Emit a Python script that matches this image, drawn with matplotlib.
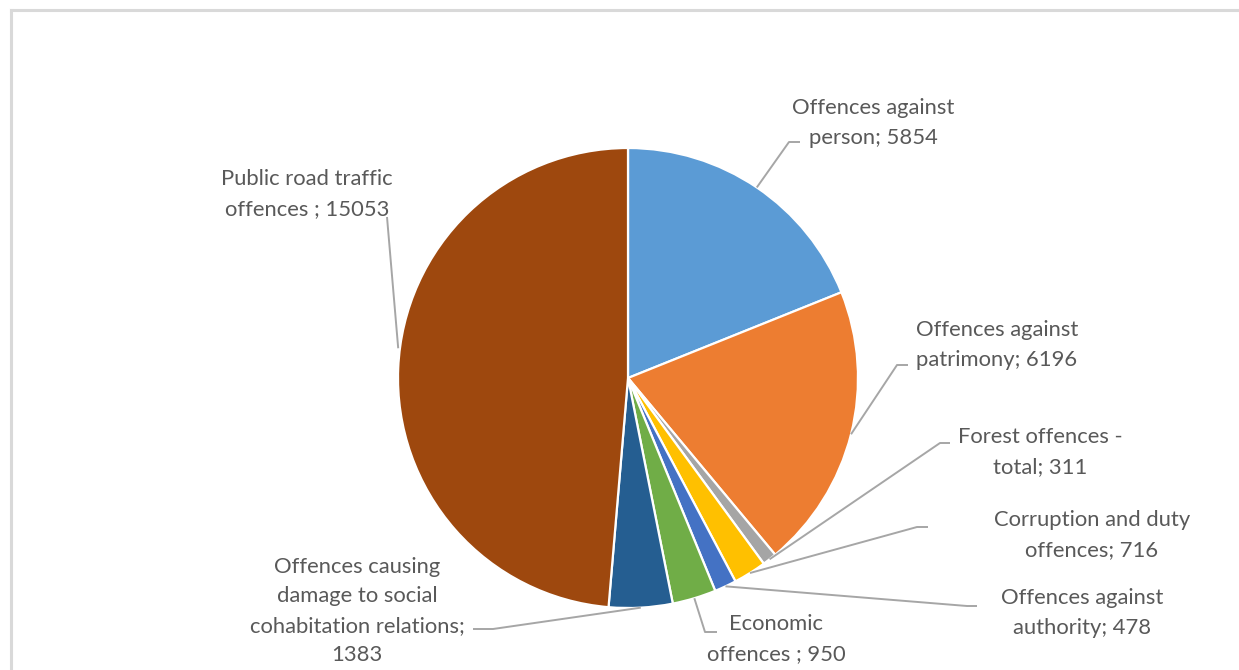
import numpy as np
import matplotlib

matplotlib.use("Agg")

import matplotlib.pyplot as plt
from matplotlib.lines import Line2D

W, H = 1239, 670

categories = [
    "Offences against\nperson; 5854",
    "Offences against\npatrimony; 6196",
    "Forest offences -\ntotal; 311",
    "Corruption and duty\noffences; 716",
    "Offences against\nauthority; 478",
    "Economic\noffences ; 950",
    "Offences causing\ndamage to social\ncohabitation relations;\n1383",
    "Public road traffic\noffences ; 15053",
]
values = [5854, 6196, 311, 716, 478, 950, 1383, 15053]
colors = ["#5B9BD5", "#ED7D31", "#A5A5A5", "#FFC000", "#4472C4", "#70AD47", "#255E91", "#9E480E"]

# layout in pixels (x, y from top): label centre, elbow point, elbow end
label_pos = [(873, 123), (997, 345), (1040, 452), (1092, 535), (1082, 613), (776, 639), (357, 611), (307, 194)]
elbows = [
    [(789, 142), (800, 142)],
    [(897, 365), (908, 365)],
    [(940, 443), (950, 443)],
    [(917, 527), (928, 527)],
    [(967, 606), (977, 606)],
    [(705, 632), (717, 632)],
    [(493, 629), (473, 629)],
    [(387, 217), (387, 217)],
]

center = (628, 378)
radius = 230

plt.rcParams["font.family"] = ["Lato", "DejaVu Sans"]

fig = plt.figure(figsize=(W / 100, H / 100), dpi=100)
ax = fig.add_axes([0, 0, 1, 1])

cx, cy = center[0], H - center[1]
ax.pie(
    values,
    colors=colors,
    startangle=90,
    counterclock=False,
    center=(cx, cy),
    radius=radius,
    wedgeprops=dict(edgecolor="white", linewidth=1.6),
)
ax.set_xlim(0, W)
ax.set_ylim(0, H)
ax.set_aspect("equal")
ax.axis("off")

total = float(sum(values))
cum = np.cumsum([0] + values[:-1]) / total
mids = cum + np.array(values) / total / 2
for i, label in enumerate(categories):
    theta = np.deg2rad(90 - 360 * mids[i])
    ax_x = cx + radius * np.cos(theta)
    ax_y = cy + radius * np.sin(theta)
    if i == len(categories) - 1:
        ax_y += 20  # Excel anchors this one a bit higher on the rim
    pts = [(ax_x, ax_y)] + [(x, H - y) for x, y in elbows[i]]
    ax.plot([p[0] for p in pts], [p[1] for p in pts], color="#A6A6A6", lw=1.4, solid_capstyle="butt")
    lx, ly = label_pos[i]
    ax.text(lx, H - ly, label, ha="center", va="center", fontsize=15.8, color="#595959", linespacing=1.6)

# chart frame (top and left edges visible)
fig.add_artist(Line2D([11 / W, 1], [1 - 9.5 / H, 1 - 9.5 / H], transform=fig.transFigure, color="#D9D9D9", lw=2.2))
fig.add_artist(Line2D([11 / W, 11 / W], [0, 1 - 9.5 / H], transform=fig.transFigure, color="#D9D9D9", lw=2.2))

fig.savefig("out.png", dpi=100)
plt.close(fig)
